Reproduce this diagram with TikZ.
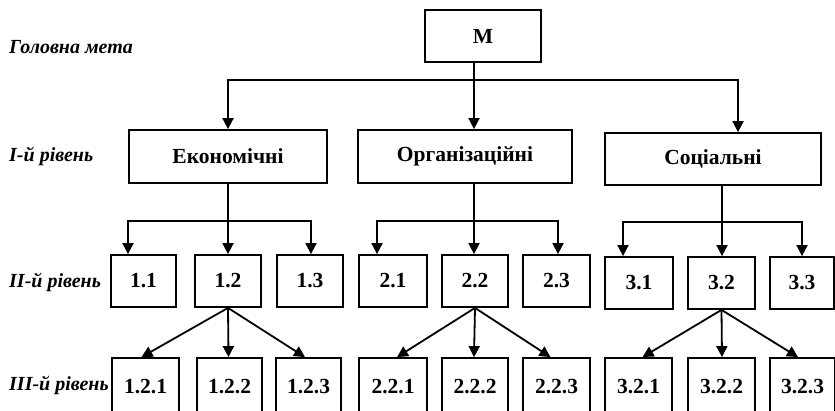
\documentclass[tikz,border=0pt]{standalone}
\usepackage{fontspec}
\setmainfont{Liberation Serif}
\usetikzlibrary{arrows.meta}
\tikzset{
  box/.style={draw, line width=1.8pt, rectangle, inner sep=0pt,
    font=\fontsize{21.5}{21.5}\selectfont\bfseries},
  lvl/.style={anchor=west, inner sep=0pt,
    font=\fontsize{20}{20}\selectfont\bfseries\itshape},
  wire/.style={line width=1.8pt},
  arr/.style={wire, -{Triangle[length=11pt,width=11pt]}},
}
\newcommand{\boxat}[6]{% name, x1, y1, x2, y2, text
  \node[box, minimum width=#4-#2, minimum height=#5-#3] (#1) at ({(#2+#4)/2},{(#3+#5)/2}) {#6};}
\begin{document}
\begin{tikzpicture}[x=1pt,y=-1pt]
\useasboundingbox (0,0) rectangle (835,410);
\clip (0,0) rectangle (835,410);

% level captions
\node[lvl] (t0) at (9,47) {Головна мета};
\node[lvl] (t1) at (9,156) {І-й рівень};
\node[lvl] (t2) at (9,282) {ІІ-й рівень};
\node[lvl] (t3) at (9,385) {ІІІ-й рівень};

% main goal
\boxat{m}{425}{10}{541}{62}{М}

% first level
\boxat{eco}{129}{130}{327}{183}{Економічні}
\boxat{org}{358}{130}{572}{183}{Організаційні}
\boxat{soc}{605}{133}{821}{185}{Соціальні}

% second level
\boxat{n11}{111}{255}{176}{307}{1.1}
\boxat{n12}{195}{255}{261}{307}{1.2}
\boxat{n13}{277}{255}{343}{307}{1.3}
\boxat{n21}{359}{255}{427}{307}{2.1}
\boxat{n22}{442}{255}{508}{307}{2.2}
\boxat{n23}{523}{255}{590}{307}{2.3}
\boxat{n31}{605}{257}{673}{309}{3.1}
\boxat{n32}{688}{257}{755}{309}{3.2}
\boxat{n33}{770}{257}{834}{309}{3.3}

% third level (boxes run past the lower edge)
\boxat{n121}{112}{358}{179}{416}{1.2.1}
\boxat{n122}{197}{358}{262}{416}{1.2.2}
\boxat{n123}{276}{358}{341}{416}{1.2.3}
\boxat{n221}{359}{358}{427}{416}{2.2.1}
\boxat{n222}{442}{358}{508}{416}{2.2.2}
\boxat{n223}{523}{358}{590}{416}{2.2.3}
\boxat{n321}{605}{358}{672}{416}{3.2.1}
\boxat{n322}{688}{358}{755}{416}{3.2.2}
\boxat{n323}{770}{358}{835}{416}{3.2.3}

% goal to first level
\coordinate (b0) at (474,80);
\draw[wire] ([xshift=-9pt]m.south) -- (b0);
\draw[arr] (b0) -| (eco.north);
\draw[arr] (b0) -- ([xshift=9pt]org.north);
\draw[arr] (b0) -| ([xshift=25pt]soc.north);

% first level to second level
\coordinate (b1) at (228,221);
\draw[wire] (eco.south) -- (b1);
\draw[arr] (b1) -| ([xshift=-15.5pt]n11.north);
\draw[arr] (b1) -- (n12.north);
\draw[arr] (b1) -| ([xshift=1pt]n13.north);

\coordinate (b2) at (474,221);
\draw[wire] ([xshift=9pt]org.south) -- (b2);
\draw[arr] (b2) -| ([xshift=-16pt]n21.north);
\draw[arr] (b2) -- ([xshift=-1pt]n22.north);
\draw[arr] (b2) -| ([xshift=1.5pt]n23.north);

\coordinate (b3) at (722,222);
\draw[wire] ([xshift=9pt]soc.south) -- (b3);
\draw[arr] (b3) -| ([xshift=-16pt]n31.north);
\draw[arr] (b3) -- ([xshift=0.5pt]n32.north);
\draw[arr] (b3) -| ([xshift=0pt]n33.north);

% second level to third level
\draw[arr] (n12.south) -- ([xshift=-4pt]n121.north);
\draw[arr] (n12.south) -- ([xshift=-1pt]n122.north);
\draw[arr] (n12.south) -- ([xshift=-3.5pt]n123.north);

\draw[arr] (n22.south) -- ([xshift=4pt]n221.north);
\draw[arr] (n22.south) -- ([xshift=-1pt]n222.north);
\draw[arr] (n22.south) -- ([xshift=-6pt]n223.north);

\draw[arr] (n32.south) -- ([xshift=4pt]n321.north);
\draw[arr] (n32.south) -- ([xshift=0.5pt]n322.north);
\draw[arr] (n32.south) -- ([xshift=-4.5pt]n323.north);
\end{tikzpicture}
\end{document}
